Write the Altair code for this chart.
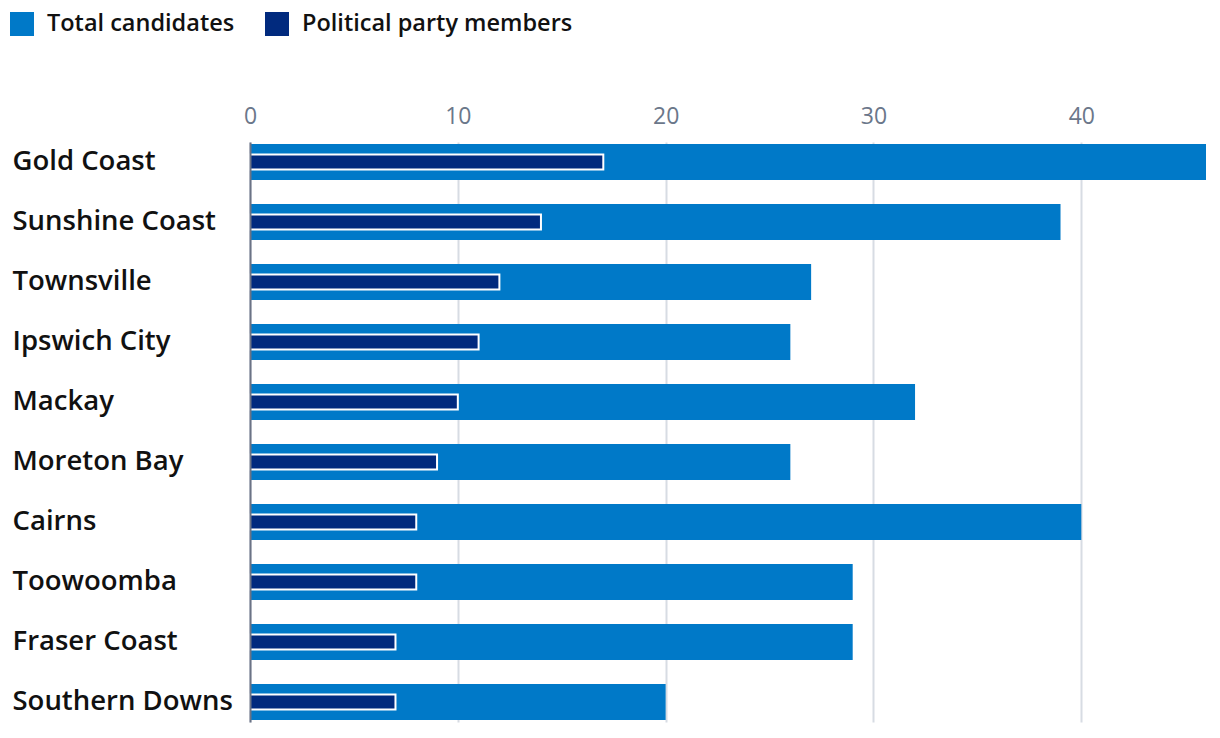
import altair as alt
import pandas as pd

regions = ["Gold Coast", "Sunshine Coast", "Townsville", "Ipswich City", "Mackay",
           "Moreton Bay", "Cairns", "Toowoomba", "Fraser Coast", "Southern Downs"]
total_candidates = [46, 39, 27, 26, 32, 26, 40, 29, 29, 20]
party_members = [17, 14, 12, 11, 10, 9, 8, 8, 7, 7]
series_names = ["Total candidates", "Political party members"]
x_ticks = [0, 10, 20, 30, 40]

rows = []
for r, t, p in zip(regions, total_candidates, party_members):
    rows.append({"region": r, "series": series_names[0], "value": t})
    rows.append({"region": r, "series": series_names[1], "value": p})
df = pd.DataFrame(rows)

FONT = "Open Sans"

color = alt.Color(
    "series:N",
    scale=alt.Scale(domain=series_names, range=["#0079c8", "#012a7e"]),
    legend=alt.Legend(
        title=None, orient="none", legendX=-240, legendY=-130,
        direction="horizontal", symbolType="square", symbolSize=576,
        symbolStrokeWidth=0, labelFontSize=23.5, labelFont=FONT,
        labelFontWeight=600, labelColor="#111111", columnPadding=30,
        labelOffset=13, labelLimit=0,
    ),
)

x = alt.X(
    "value:Q",
    scale=alt.Scale(domain=[0, 46], nice=False, zero=True),
    axis=alt.Axis(
        orient="top", values=x_ticks, title=None, domain=False, ticks=False,
        grid=True, gridColor="#d7dce3", gridWidth=2, labelFontSize=23,
        labelColor="#6b778a", labelFont=FONT, labelPadding=14,
        labelFlush=False,
    ),
)
y = alt.Y(
    "region:N", sort=regions,
    scale=alt.Scale(paddingInner=0.4, paddingOuter=0.033),
    axis=alt.Axis(
        title=None, ticks=False, domain=True, domainColor="#6b7385",
        domainWidth=2, labelAlign="left", labelPadding=238, labelFontSize=27.5,
        labelFontWeight=600, labelColor="#111111", labelFont=FONT,
        grid=False, zindex=1, labelLimit=0,
    ),
)

base = alt.Chart(df)
total = base.transform_filter(alt.datum.series == series_names[0]).mark_bar().encode(
    x=x, y=y, color=color
)
party = base.transform_filter(alt.datum.series == series_names[1]).mark_bar(
    size=15, stroke="white", strokeWidth=2
).encode(x=x, y=y, color=color)

chart = alt.layer(total, party).properties(
    width=956, height=580,
    autosize=alt.AutoSizeParams(type="none"),
    padding={"left": 242, "top": 134, "right": 6, "bottom": 8},
    background="white",
).configure_view(stroke=None)

chart.save("out.html", embed_options={"renderer": "svg", "actions": False})
